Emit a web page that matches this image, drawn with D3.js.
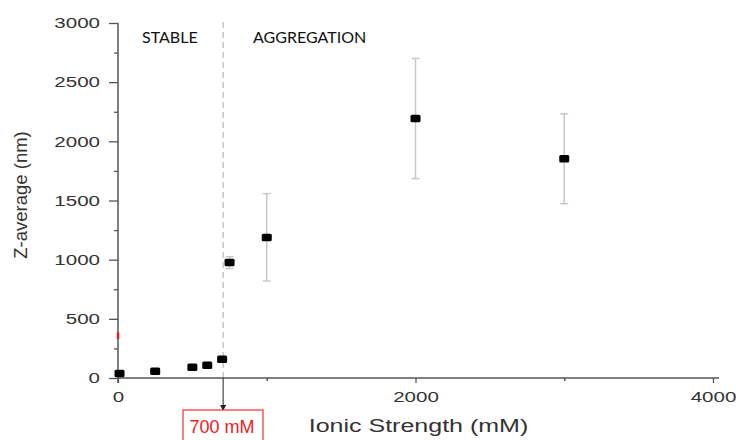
<!DOCTYPE html>
<html><head><meta charset="utf-8">
<script src="https://cdn.jsdelivr.net/npm/d3@7"></script>
<style>body{margin:0;background:#fff}svg{display:block}</style>
</head><body>
<script>
const ionic = [10, 250, 500, 600, 700, 750, 1000, 2000, 3000];
const zavg = [40, 60, 93, 110, 160, 978, 1190, 2195, 1855];
const errLow = [null, null, null, null, null, 925, 820, 1685, 1473];
const errHigh = [null, null, null, null, null, 1025, 1558, 2700, 2232];
const xTicks = [0, 2000, 4000];
const xMinor = [1000, 3000];
const yTicks = [0, 500, 1000, 1500, 2000, 2500, 3000];
const yMinor = [250, 750, 1250, 1750, 2250, 2750];
const threshold = 700;
const redMark = [330, 385];

const W = 736, H = 440;
const svg = d3.select("body").append("svg").attr("width", W).attr("height", H);
const x = d3.scaleLinear().domain([0, 4000]).range([118, 713]);
const y = d3.scaleLinear().domain([0, 3000]).range([378, 23]);
const axisColor = "#555";
const labelFont = "Liberation Sans, Arial, sans-serif";
const stretch = 1.37;

// dashed threshold line
svg.append("line").attr("x1", x(threshold) + 1).attr("x2", x(threshold) + 1)
  .attr("y1", 22).attr("y2", y(0))
  .attr("stroke", "#aaa").attr("stroke-width", 1).attr("stroke-dasharray", "6,4");

// region labels
svg.append("text").attr("x", 142).attr("y", 43).text("STABLE")
  .attr("font-family", "Lato, 'Open Sans', sans-serif").attr("font-size", 16).attr("fill", "#111");
svg.append("text").attr("x", 253).attr("y", 43).text("AGGREGATION")
  .attr("font-family", "Lato, 'Open Sans', sans-serif").attr("font-size", 16).attr("fill", "#111");

// y axis
const yAxis = d3.axisLeft(y).tickValues(yTicks).tickSize(9).tickPadding(9).tickFormat(d3.format("d"));
const gy = svg.append("g").attr("transform", `translate(${x(0)},0)`).call(yAxis);
gy.select(".domain").attr("stroke", axisColor).attr("stroke-width", 1.5).attr("d", `M0,${y(3000)}V${y(0)+5}`);
gy.selectAll(".tick line").attr("stroke", axisColor).attr("stroke-width", 1.3);
gy.selectAll(".tick text").attr("font-family", labelFont).attr("font-size", 15).attr("fill", "#333")
  .attr("x", -18 / stretch).attr("transform", `scale(${stretch},1)`);
const gyMinor = svg.append("g").attr("transform", `translate(${x(0)},0)`)
  .call(d3.axisLeft(y).tickValues(yMinor).tickSize(4).tickFormat(""));
gyMinor.select(".domain").remove();
gyMinor.selectAll(".tick line").attr("stroke", axisColor).attr("stroke-width", 1.3);

// x axis
const xAxis = d3.axisBottom(x).tickValues(xTicks).tickSize(5).tickPadding(8).tickFormat(d3.format("d"));
const gx = svg.append("g").attr("transform", `translate(0,${y(0)})`).call(xAxis);
gx.select(".domain").attr("stroke", axisColor).attr("stroke-width", 1.5).attr("d", `M${x(0)},0H${x(4000)+6}`);
gx.selectAll(".tick line").attr("stroke", axisColor).attr("stroke-width", 1.3);
gx.selectAll(".tick text").attr("font-family", labelFont).attr("font-size", 15).attr("fill", "#333")
  .attr("transform", `scale(${stretch},1)`);
const gxMinor = svg.append("g").attr("transform", `translate(0,${y(0)})`)
  .call(d3.axisBottom(x).tickValues(xMinor).tickSize(3).tickFormat(""));
gxMinor.select(".domain").remove();
gxMinor.selectAll(".tick line").attr("stroke", axisColor).attr("stroke-width", 1.5);

// axis titles
svg.append("text").attr("transform", `translate(27,195) rotate(-90)`)
  .attr("text-anchor", "middle").text("Z-average (nm)")
  .attr("font-family", labelFont).attr("font-size", 18.5).attr("fill", "#333");
svg.append("text").attr("transform", `translate(418.5,432) scale(1.39,1)`).attr("text-anchor", "middle")
  .text("Ionic Strength (mM)")
  .attr("font-family", labelFont).attr("font-size", 18).attr("fill", "#333");

// red mark on y axis
svg.append("line").attr("x1", x(0)).attr("x2", x(0))
  .attr("y1", y(redMark[1])).attr("y2", y(redMark[0]))
  .attr("stroke", "#e02020").attr("stroke-width", 2.5);

// error bars
const data = ionic.map((v, i) => ({x: v, y: zavg[i], lo: errLow[i], hi: errHigh[i]}));
const eb = svg.append("g").selectAll("g").data(data.filter(d => d.lo !== null)).join("g")
  .attr("stroke", "#c8c8c8").attr("stroke-width", 1.5);
eb.append("line").attr("x1", d => x(d.x)).attr("x2", d => x(d.x))
  .attr("y1", d => y(d.hi)).attr("y2", d => y(d.lo));
eb.append("line").attr("x1", d => x(d.x) - 4).attr("x2", d => x(d.x) + 4)
  .attr("y1", d => y(d.hi)).attr("y2", d => y(d.hi));
eb.append("line").attr("x1", d => x(d.x) - 4).attr("x2", d => x(d.x) + 4)
  .attr("y1", d => y(d.lo)).attr("y2", d => y(d.lo));

// markers
svg.append("g").selectAll("rect").data(data).join("rect")
  .attr("x", d => x(d.x) - 5).attr("y", d => y(d.y) - 3.5)
  .attr("width", 10).attr("height", 7.5).attr("rx", 1.5)
  .attr("fill", "#000");

// arrow to threshold box
svg.append("defs").append("marker").attr("id", "arr").attr("viewBox", "0 0 10 10")
  .attr("refX", 10).attr("refY", 5).attr("markerWidth", 6).attr("markerHeight", 6)
  .attr("orient", "auto").append("path").attr("d", "M0,0L10,5L0,10z").attr("fill", "#222");
svg.append("line").attr("x1", x(threshold) + 1).attr("x2", x(threshold) + 1)
  .attr("y1", y(0)).attr("y2", 411).attr("stroke", "#222").attr("stroke-width", 1)
  .attr("marker-end", "url(#arr)");
svg.append("rect").attr("x", 183).attr("y", 410).attr("width", 80).attr("height", 40)
  .attr("fill", "#fff").attr("stroke", "#f03030").attr("stroke-width", 1.2);
svg.append("text").attr("x", 222).attr("y", 433).attr("text-anchor", "middle")
  .text(threshold + " mM").attr("font-family", labelFont).attr("font-size", 18).attr("fill", "#ee1c1c");
</script>
</body></html>
